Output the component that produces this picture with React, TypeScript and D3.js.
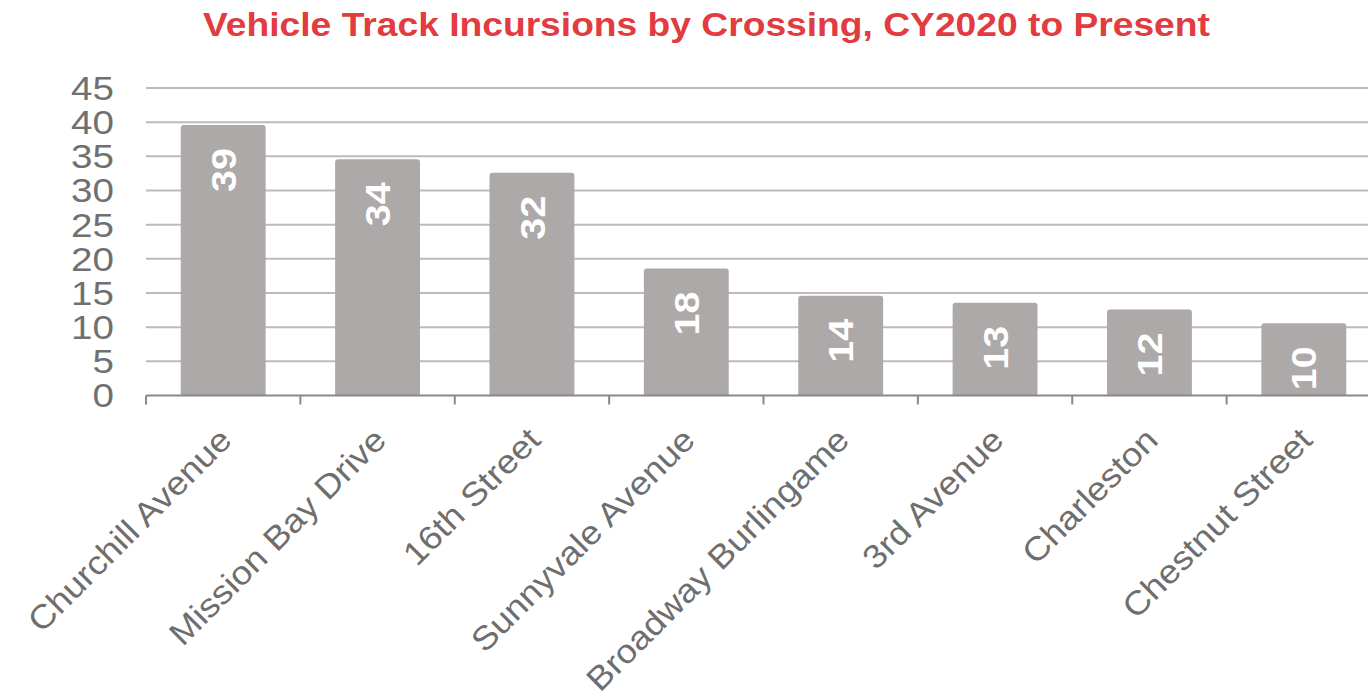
import React from "react";
import * as d3 from "d3";

const title = "Vehicle Track Incursions by Crossing, CY2020 to Present";
const categories = [
  "Churchill Avenue",
  "Mission Bay Drive",
  "16th Street",
  "Sunnyvale Avenue",
  "Broadway Burlingame",
  "3rd Avenue",
  "Charleston",
  "Chestnut Street",
];
const values = [39, 34, 32, 18, 14, 13, 12, 10];
const yTicks = [0, 5, 10, 15, 20, 25, 30, 35, 40, 45];

const W = 1368;
const H = 695;
const margin = { left: 146, right: -13, top: 88, bottom: 300 };
const FONT = "'Liberation Sans', Arial, sans-serif";
const STRETCH = 1.13;

export default function App() {
  const x = d3
    .scaleBand<string>()
    .domain(categories)
    .range([margin.left, W - margin.right])
    .paddingInner(0.45)
    .paddingOuter(0.225);
  const y = d3.scaleLinear().domain([0, 45]).range([H - margin.bottom + 0.5, margin.top]);
  const y0 = y(0);
  const step = x.step();
  const cap = 4;
  const boundaries = d3.range(categories.length).map((i) => margin.left + i * step);

  return (
    <svg width={W} height={H} style={{ position: "absolute", left: 0, top: 0, background: "#fff" }}>
      <g transform={`translate(706.5,36) scale(1.145,1)`}>
        <text textAnchor="middle" fontFamily={FONT} fontWeight="bold" fontSize={32.5} fill="#E23B40">
          {title}
        </text>
      </g>
      {yTicks.map((t) => (
        <g key={t}>
          {t > 0 && (
            <line x1={margin.left} x2={W} y1={y(t)} y2={y(t)} stroke="#BDBABA" strokeWidth={2} />
          )}
          <g transform={`translate(114,${y(t)}) scale(${STRETCH + 0.04},1)`}>
            <text dy="0.36em" textAnchor="end" fontFamily={FONT} fontSize={33} fill="#707070">
              {t}
            </text>
          </g>
        </g>
      ))}
      {categories.map((c, i) => {
        const bx = x(c)!;
        const bw = x.bandwidth();
        const top = y(values[i]) - cap;
        const r = 3;
        const path = `M${bx},${y0} V${top + r} Q${bx},${top} ${bx + r},${top} H${bx + bw - r} Q${bx + bw},${top} ${bx + bw},${top + r} V${y0} Z`;
        const cx = bx + bw / 2;
        return (
          <g key={c}>
            <path d={path} fill="#ADA9A8" />
            <g transform={`translate(${cx},${top + 23}) rotate(-90) scale(${STRETCH},1)`}>
              <text textAnchor="end" dy="0.36em" fontFamily={FONT} fontWeight="bold" fontSize={35} fill="#fff">
                {values[i]}
              </text>
            </g>
            <g transform={`translate(${cx + 2},${y0 + 38}) rotate(-45) scale(${STRETCH - 0.03},1)`}>
              <text textAnchor="end" dy="0.36em" fontFamily={FONT} fontSize={33} fill="#6E6E6E">
                {c}
              </text>
            </g>
          </g>
        );
      })}
      <line x1={margin.left} x2={W} y1={y0} y2={y0} stroke="#8A8888" strokeWidth={2} />
      {boundaries.map((bx, i) => (
        <line key={i} x1={bx} x2={bx} y1={y0} y2={y0 + 9} stroke="#8A8888" strokeWidth={2} />
      ))}
    </svg>
  );
}
